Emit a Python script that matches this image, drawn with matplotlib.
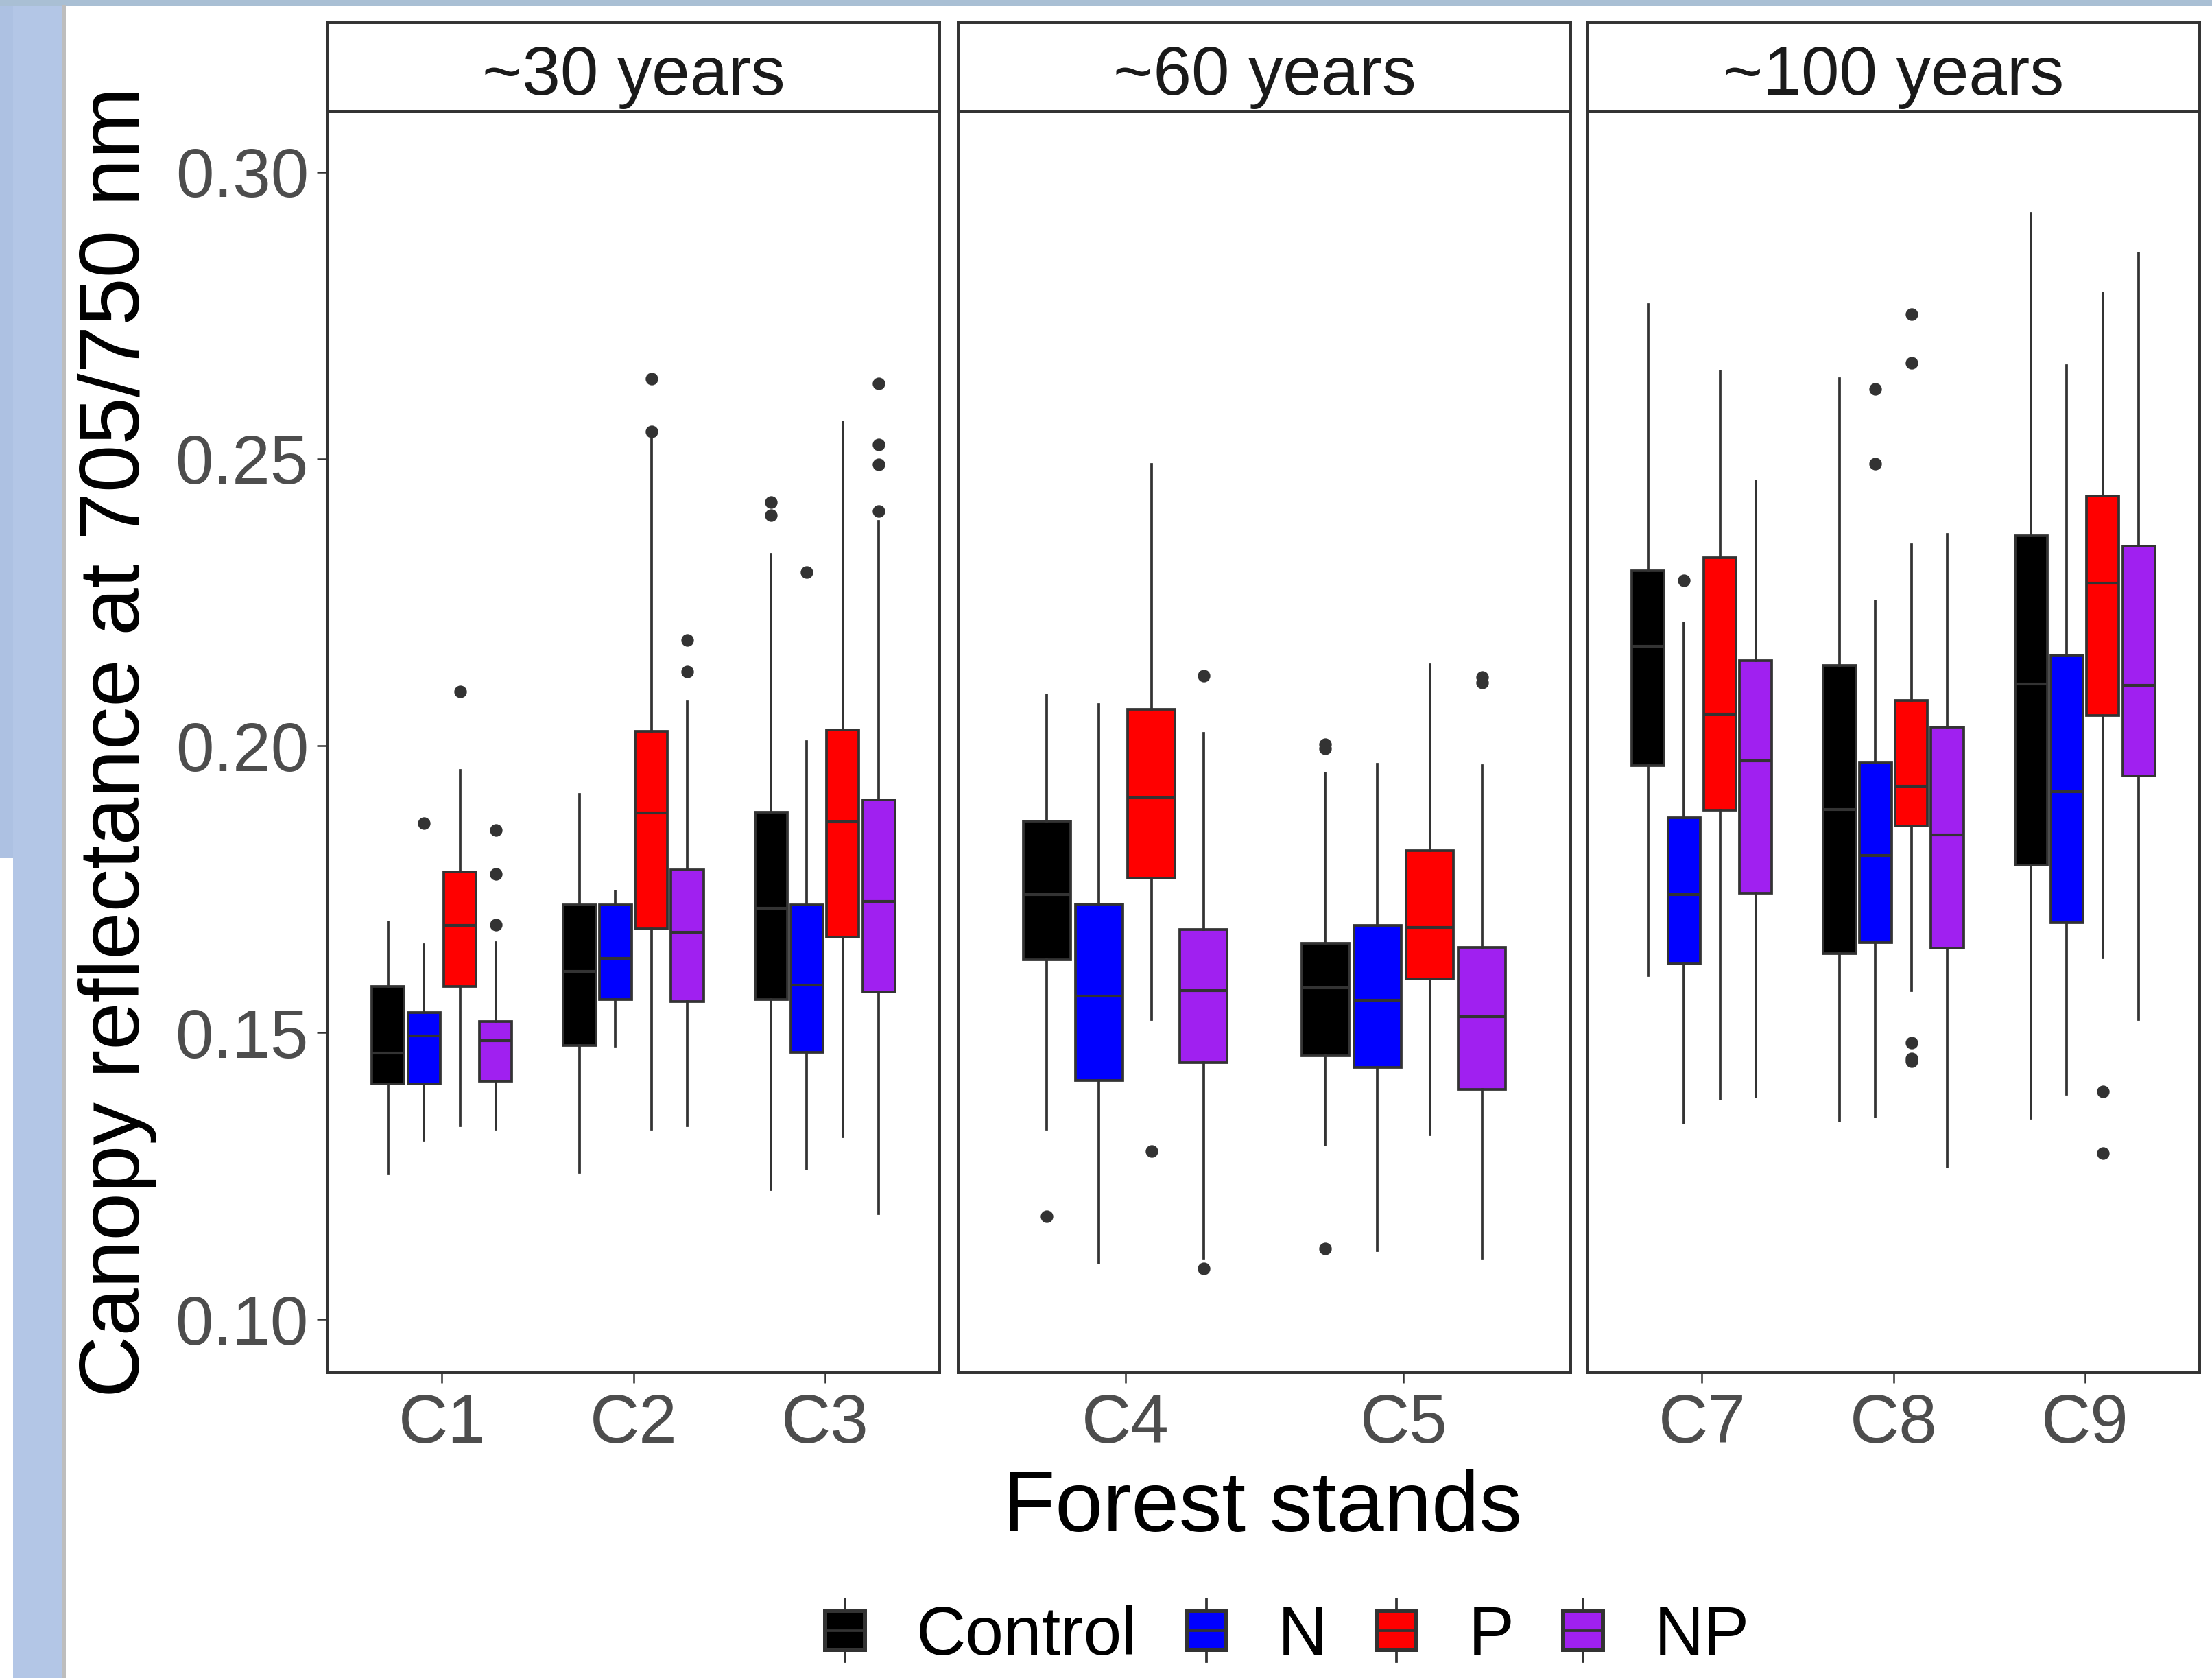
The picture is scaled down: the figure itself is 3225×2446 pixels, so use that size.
import matplotlib
matplotlib.use('Agg')
import matplotlib.pyplot as plt
from matplotlib.patches import Rectangle, Patch
from matplotlib.lines import Line2D
from matplotlib.legend_handler import HandlerBase

plt.rcParams['font.family'] = ['Liberation Sans', 'DejaVu Sans']

# ---- data ----
stands = ['C1', 'C2', 'C3', 'C4', 'C5', 'C7', 'C8', 'C9']
stand_panel = [0, 0, 0, 1, 1, 2, 2, 2]
panel_titles = ['~30 years', '~60 years', '~100 years']
treatments = ['Control', 'N', 'P', 'NP']
colors = ['#000000', '#0000FF', '#FF0000', '#A020F0']

control_whishi = [0.1693, 0.1915, 0.2334, 0.2088, 0.1952, 0.2769, 0.2640, 0.2928]
control_q3 = [0.1580, 0.1722, 0.1884, 0.1868, 0.1656, 0.2305, 0.2140, 0.2366]
control_med = [0.1464, 0.1606, 0.1717, 0.1740, 0.1578, 0.2174, 0.1889, 0.2108]
control_q1 = [0.1411, 0.1478, 0.1557, 0.1627, 0.1459, 0.1965, 0.1638, 0.1792]
control_whislo = [0.1254, 0.1256, 0.1226, 0.1331, 0.1304, 0.1599, 0.1346, 0.1351]
control_out = [[], [], [0.2425, 0.2402], [0.1180], [0.2002, 0.1995, 0.1123], [], [], []]

n_whishi = [0.1653, 0.1746, 0.2007, 0.2072, 0.1968, 0.2214, 0.2252, 0.2663]
n_q3 = [0.1535, 0.1722, 0.1722, 0.1724, 0.1687, 0.1875, 0.1970, 0.2158]
n_med = [0.1494, 0.1629, 0.1583, 0.1563, 0.1556, 0.1740, 0.1809, 0.1920]
n_q1 = [0.1411, 0.1557, 0.1465, 0.1416, 0.1439, 0.1620, 0.1657, 0.1692]
n_whislo = [0.1312, 0.1476, 0.1262, 0.1098, 0.1120, 0.1342, 0.1353, 0.1392]
n_out = [[0.1865], [], [0.2302], [], [], [0.2288], [0.2622, 0.2492], []]

p_whishi = [0.1957, 0.2535, 0.2564, 0.2490, 0.2141, 0.2653, 0.2350, 0.2789]
p_q3 = [0.1780, 0.2025, 0.2028, 0.2063, 0.1817, 0.2328, 0.2079, 0.2435]
p_med = [0.1687, 0.1883, 0.1867, 0.1909, 0.1683, 0.2055, 0.1929, 0.2283]
p_q1 = [0.1580, 0.1681, 0.1666, 0.1769, 0.1593, 0.1888, 0.1860, 0.2053]
p_whislo = [0.1337, 0.1331, 0.1318, 0.1523, 0.1322, 0.1384, 0.1573, 0.1631]
p_out = [[0.2095], [0.2640, 0.2548], [], [0.1293], [], [],
         [0.2752, 0.2667, 0.1482, 0.1455, 0.1450], [0.1397, 0.1290]]

np_whishi = [0.1657, 0.2077, 0.2391, 0.2022, 0.1965, 0.2462, 0.2368, 0.2859]
np_q3 = [0.1519, 0.1783, 0.1906, 0.1680, 0.1649, 0.2148, 0.2032, 0.2348]
np_med = [0.1486, 0.1675, 0.1728, 0.1573, 0.1528, 0.1974, 0.1844, 0.2105]
np_q1 = [0.1415, 0.1554, 0.1571, 0.1447, 0.1401, 0.1743, 0.1647, 0.1947]
np_whislo = [0.1331, 0.1337, 0.1185, 0.1107, 0.1107, 0.1388, 0.1266, 0.1523]
np_out = [[0.1853, 0.1776, 0.1688], [0.2184, 0.2129], [0.2632, 0.2525, 0.2490, 0.2409],
          [0.2122, 0.1089], [0.2120, 0.2110], [], [], []]

summaries = [
    (control_whislo, control_q1, control_med, control_q3, control_whishi, control_out),
    (n_whislo, n_q1, n_med, n_q3, n_whishi, n_out),
    (p_whislo, p_q1, p_med, p_q3, p_whishi, p_out),
    (np_whislo, np_q1, np_med, np_q3, np_whishi, np_out),
]

# ---- figure ----
W, H = 3225, 2446
dpi = 300
fig = plt.figure(figsize=(W / dpi, H / dpi), dpi=dpi)
fig.patch.set_facecolor('white')

# screenshot frame on the left/top
fig.add_artist(Rectangle((19 / W, 0), 74 / W, 1, transform=fig.transFigure,
                         facecolor='#b3c6e6', edgecolor='none', zorder=0))
fig.add_artist(Rectangle((0, 1 - 1251 / H), 19 / W, 1251 / H, transform=fig.transFigure,
                         facecolor='#adc1e2', edgecolor='none', zorder=0))
fig.add_artist(Rectangle((0, 1 - 9 / H), 1, 9 / H, transform=fig.transFigure,
                         facecolor='#a9bfd4', edgecolor='none', zorder=0))
fig.add_artist(Line2D([93 / W, 93 / W], [0, 1 - 9 / H], transform=fig.transFigure,
                      color='#bdbdbd', lw=1.2))

dark = '#333333'
lw = 0.9
panel_x = [477, 1397, 2314]
panel_w = 893
body_top, body_bot = 163, 2001
strip_top = 33
ymin, ymax = 0.0907, 0.3105

slot = 0.75 / 4
bw = slot * 0.9

axes = []
for p in range(3):
    ax = fig.add_axes([panel_x[p] / W, 1 - body_bot / H, panel_w / W, (body_bot - body_top) / H])
    idx = [i for i in range(len(stands)) if stand_panel[i] == p]
    for t in range(4):
        lo, q1, med, q3, hi, out = summaries[t]
        stats = []
        pos = []
        for k, i in enumerate(idx):
            stats.append(dict(whislo=lo[i], q1=q1[i], med=med[i], q3=q3[i],
                              whishi=hi[i], fliers=out[i]))
            pos.append(k + 1 + (t - 1.5) * slot)
        ax.bxp(stats, positions=pos, widths=bw, patch_artist=True, showcaps=False,
               manage_ticks=False,
               boxprops=dict(facecolor=colors[t], edgecolor=dark, linewidth=lw),
               whiskerprops=dict(color=dark, linewidth=lw),
               medianprops=dict(color=dark, linewidth=lw * 1.1),
               flierprops=dict(marker='o', markerfacecolor=dark, markeredgecolor=dark,
                               markersize=3.4, linestyle='none'))
    ax.set_xlim(0.4, len(idx) + 0.6)
    ax.set_ylim(ymin, ymax)
    ax.set_xticks(range(1, len(idx) + 1))
    ax.set_xticklabels([stands[i] for i in idx])
    ax.tick_params(axis='x', length=3.5, width=0.6, color=dark, labelsize=24,
                   labelcolor='#4d4d4d', pad=3.5)
    if p == 0:
        ax.set_yticks([0.10, 0.15, 0.20, 0.25, 0.30])
        ax.set_yticklabels(['0.10', '0.15', '0.20', '0.25', '0.30'])
        ax.tick_params(axis='y', length=3.5, width=0.6, color=dark, labelsize=24,
                       labelcolor='#4d4d4d', pad=3)
    else:
        ax.set_yticks([])
    for s in ax.spines.values():
        s.set_color(dark)
        s.set_linewidth(0.95)
    axes.append(ax)

    sax = fig.add_axes([panel_x[p] / W, 1 - body_top / H, panel_w / W, (body_top - strip_top) / H])
    sax.set_xticks([])
    sax.set_yticks([])
    for s in sax.spines.values():
        s.set_color(dark)
        s.set_linewidth(0.95)
    sax.text(0.5, 0.39, panel_titles[p], ha='center', va='center', fontsize=24,
             color='#1a1a1a', transform=sax.transAxes)

fig.text(171 / W, 1 - 1082 / H, 'Canopy reflectance at 705/750 nm', rotation=90,
         ha='center', va='center', fontsize=30, color='black')
fig.text(1841 / W, 1 - 2232 / H, 'Forest stands', ha='center', va='baseline',
         fontsize=30, color='black')


class BoxKey(HandlerBase):
    def create_artists(self, legend, orig_handle, xdescent, ydescent, width, height,
                       fontsize, trans):
        x0, y0 = -xdescent, -ydescent
        cx = x0 + width / 2
        wl = Line2D([cx, cx], [y0 - 0.3 * height, y0 + 1.3 * height], color=dark,
                    lw=lw, transform=trans)
        box = Rectangle((x0, y0), width, height, facecolor=orig_handle.get_facecolor(),
                        edgecolor=dark, lw=lw * 1.6, transform=trans)
        md = Line2D([x0, x0 + width], [y0 + height / 2] * 2, color=dark, lw=lw, transform=trans)
        return [wl, box, md]


handles = [Patch(facecolor=c) for c in colors]
fig.legend(handles, treatments, handler_map={Patch: BoxKey()}, loc='center',
           bbox_to_anchor=(1877 / W, 1 - 2386 / H), ncol=4, frameon=False, fontsize=24,
           handlelength=0.58, handleheight=0.5, handletextpad=0.75, columnspacing=0.72,
           borderpad=0)

fig.savefig('out.png', dpi=dpi)
